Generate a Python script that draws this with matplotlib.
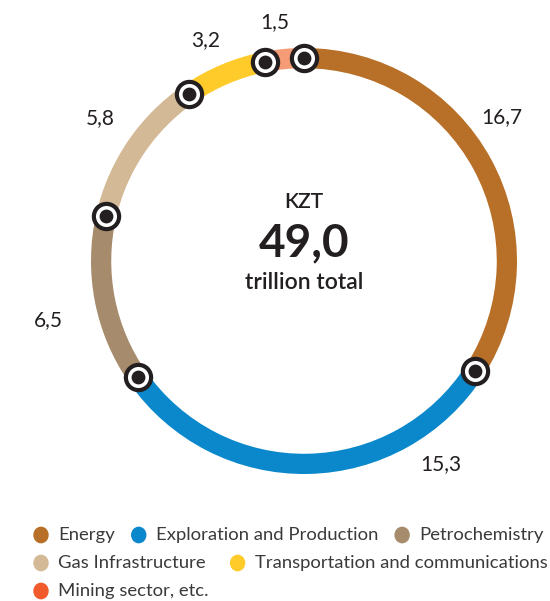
import matplotlib.pyplot as plt
import numpy as np

plt.rcParams['font.family'] = ['Lato', 'DejaVu Sans']

# data
sectors = ["Energy", "Exploration and Production", "Petrochemistry",
           "Gas Infrastructure", "Transportation and communications",
           "Mining sector, etc."]
values = [16.7, 15.3, 6.5, 5.8, 3.2, 1.5]
value_labels = ["16,7", "15,3", "6,5", "5,8", "3,2", "1,5"]
total_label = "49,0"

ring_colors = ["#B86F27", "#0A88CB", "#A68B6C", "#D4B996", "#FFCB2B", "#F59B76"]
legend_colors = ["#B86F27", "#0A88CB", "#A68B6C", "#D4B996", "#FFCB2B", "#F15A2B"]
legend_rows = [0, 0, 0, 1, 1, 2]

# label placement (angle clockwise from top in degrees, radius)
label_angles = [54, 146, 257, 305, 336, 353]
label_radius = [1.15, 1.15, 1.23, 1.17, 1.135, 1.13]

W, H = 550, 601
fig = plt.figure(figsize=(W / 100, H / 100), dpi=100)
ax = fig.add_axes([0, 0, 1, 1])
unit = 213.0
cx, cy = 304, 261
ax.axis("off")

ax.pie(values, colors=ring_colors, startangle=90, counterclock=False,
       radius=1.0, wedgeprops=dict(width=0.095, linewidth=0))
ax.set_aspect("equal")
ax.set_xlim(-cx / unit, (W - cx) / unit)
ax.set_ylim(-(H - cy) / unit, cy / unit)

# boundary markers
cum = np.concatenate([[0], np.cumsum(values)[:-1]])
ang = np.deg2rad(cum / sum(values) * 360)
rm = 0.952
mx, my = rm * np.sin(ang), rm * np.cos(ang)
ax.scatter(mx, my, s=330, facecolor="white", edgecolor="#231F20", linewidth=3.0, zorder=5)
ax.scatter(mx, my, s=80, color="#231F20", zorder=6)

# value labels
for lab, a, r in zip(value_labels, label_angles, label_radius):
    t = np.deg2rad(a)
    ax.text(r * np.sin(t), r * np.cos(t), lab, ha="center", va="center",
            fontsize=15, color="#231F20")

# centre text
ax.text(0, 0.275, "KZT", ha="center", va="center", fontsize=15, color="#231F20",
        fontweight="semibold")
ax.text(0, 0.085, total_label, ha="center", va="center", fontsize=33,
        color="#231F20", fontweight="bold")
ax.text(0, -0.1, "trillion total", ha="center", va="center", fontsize=16.5,
        color="#231F20", fontweight="semibold")

# legend, laid out as flowing rows
fig.canvas.draw()
renderer = fig.canvas.get_renderer()
row_y = [535, 563, 591]
row_gap = [24, 32, 24]
x = {0: 41, 1: 41, 2: 41}
for name, col, row in zip(sectors, legend_colors, legend_rows):
    yy = 1 - row_y[row] / H
    fig.patches.append(plt.Circle((x[row] / W, yy), 7 / W, color=col,
                                  transform=fig.transFigure, figure=fig))
    t = fig.text((x[row] + 17) / W, yy, name, ha="left", va="center",
                 fontsize=13.3, color="#3A3A3A")
    bb = t.get_window_extent(renderer)
    x[row] = bb.x1 + row_gap[row]

fig.savefig("out.png", dpi=100)
